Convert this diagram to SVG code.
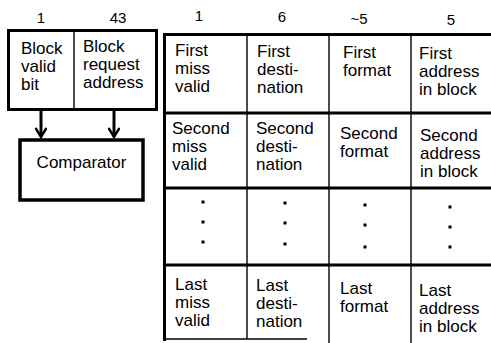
<svg xmlns="http://www.w3.org/2000/svg" width="491" height="343" viewBox="0 0 491 343">
<defs>
<style>
text{font-family:"Liberation Sans",Arial,sans-serif;fill:#000}
.t{font-size:17px}
.h{font-size:15px;text-anchor:middle}
.thick{stroke:#000;stroke-width:3;fill:none}
.thin{stroke:#000;stroke-width:1.4;fill:none}
.dot{fill:#000}
</style>
<marker id="vee" markerWidth="12" markerHeight="12" refX="10" refY="6" orient="auto" markerUnits="userSpaceOnUse">
<path d="M1,0.5 L10,6 L1,11.5" fill="none" stroke="#000" stroke-width="2.4"/>
</marker>
</defs>
<rect width="491" height="343" fill="#fff"/>

<g id="headers">
<text class="h" x="41" y="23">1</text>
<text class="h" x="118" y="23">43</text>
<text class="h" x="199" y="21">1</text>
<text class="h" x="282" y="22">6</text>
<text class="h" x="359" y="24">~5</text>
<text class="h" x="451" y="25">5</text>
</g>

<g id="block-register">
<rect class="thick" x="8.5" y="30.5" width="148" height="79"/>
<line class="thin" x1="74" y1="31" x2="74" y2="109"/>
<text class="t"><tspan x="21" y="54">Block</tspan><tspan x="21" y="72">valid</tspan><tspan x="21" y="90">bit</tspan></text>
<text class="t"><tspan x="83" y="52">Block</tspan><tspan x="83" y="70">request</tspan><tspan x="83" y="88">address</tspan></text>
</g>

<g id="comparator">
<rect x="20" y="140" width="123" height="60" fill="none" stroke="#000" stroke-width="3.5"/>
<text class="t" x="81.5" y="168" text-anchor="middle">Comparator</text>
</g>

<g id="connectors">
<line class="thick" x1="41" y1="111" x2="41" y2="137" stroke-width="2.5" marker-end="url(#vee)"/>
<line class="thick" x1="114" y1="111" x2="114" y2="137" stroke-width="2.5" marker-end="url(#vee)"/>
</g>

<g id="miss-table">
<line class="thick" x1="164.5" y1="33" x2="164.5" y2="341"/>
<line class="thick" x1="163" y1="34.5" x2="491" y2="34.5"/>
<line class="thick" x1="163" y1="113" x2="491" y2="113"/>
<line class="thick" x1="163" y1="188" x2="491" y2="188"/>
<line class="thick" x1="163" y1="265" x2="491" y2="265"/>
<line class="thin" x1="163" y1="339" x2="307" y2="339"/>
<line class="thin" x1="247" y1="35" x2="247" y2="339"/>
<line class="thin" x1="329" y1="35" x2="329" y2="343"/>
<line class="thin" x1="411" y1="35" x2="411" y2="343"/>
</g>

<g id="row-first">
<text class="t"><tspan x="175" y="56">First</tspan><tspan x="175" y="74">miss</tspan><tspan x="175" y="92">valid</tspan></text>
<text class="t"><tspan x="257" y="57">First</tspan><tspan x="257" y="75">desti-</tspan><tspan x="257" y="93">nation</tspan></text>
<text class="t"><tspan x="343" y="58">First</tspan><tspan x="343" y="76">format</tspan></text>
<text class="t"><tspan x="419" y="59">First</tspan><tspan x="419" y="77">address</tspan><tspan x="419" y="95">in block</tspan></text>
</g>

<g id="row-second">
<text class="t"><tspan x="172" y="134">Second</tspan><tspan x="172" y="152">miss</tspan><tspan x="172" y="170">valid</tspan></text>
<text class="t"><tspan x="256" y="134">Second</tspan><tspan x="256" y="152">desti-</tspan><tspan x="256" y="170">nation</tspan></text>
<text class="t"><tspan x="340" y="139">Second</tspan><tspan x="340" y="157">format</tspan></text>
<text class="t"><tspan x="420" y="141">Second</tspan><tspan x="420" y="159">address</tspan><tspan x="420" y="177">in block</tspan></text>
</g>

<g id="row-dots">
<rect class="dot" x="201.5" y="200.5" width="3" height="3"/>
<rect class="dot" x="201.5" y="220.5" width="3" height="3"/>
<rect class="dot" x="201.5" y="240.5" width="3" height="3"/>
<rect class="dot" x="283.5" y="201.5" width="3" height="3"/>
<rect class="dot" x="283.5" y="221.5" width="3" height="3"/>
<rect class="dot" x="283.5" y="242.5" width="3" height="3"/>
<rect class="dot" x="363.5" y="203.5" width="3" height="3"/>
<rect class="dot" x="363.5" y="223.5" width="3" height="3"/>
<rect class="dot" x="363.5" y="245.5" width="3" height="3"/>
<rect class="dot" x="448.5" y="205.5" width="3" height="3"/>
<rect class="dot" x="448.5" y="225.5" width="3" height="3"/>
<rect class="dot" x="448.5" y="245.5" width="3" height="3"/>
</g>

<g id="row-last">
<text class="t"><tspan x="175" y="290">Last</tspan><tspan x="175" y="308">miss</tspan><tspan x="175" y="326">valid</tspan></text>
<text class="t"><tspan x="256" y="291">Last</tspan><tspan x="256" y="309">desti-</tspan><tspan x="256" y="327">nation</tspan></text>
<text class="t"><tspan x="340" y="294">Last</tspan><tspan x="340" y="312">format</tspan></text>
<text class="t"><tspan x="419" y="296">Last</tspan><tspan x="419" y="314">address</tspan><tspan x="419" y="332">in block</tspan></text>
</g>
</svg>
